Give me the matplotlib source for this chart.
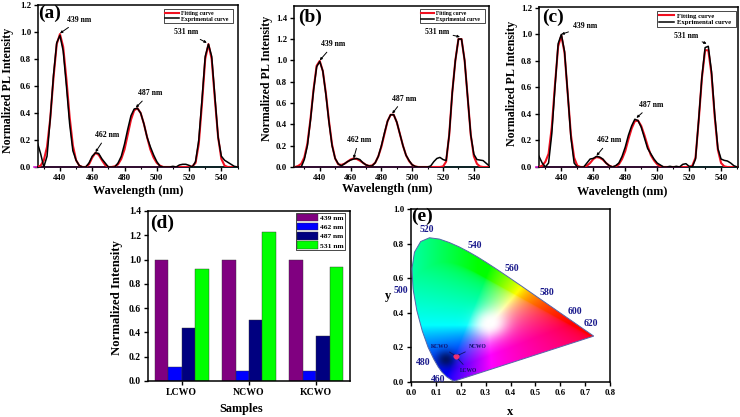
import numpy as np
import matplotlib
matplotlib.use('Agg')
import matplotlib.pyplot as plt
from matplotlib.patches import Polygon
from matplotlib.ticker import MultipleLocator

plt.rcParams['font.family'] = ['Liberation Serif', 'DejaVu Serif']
plt.rcParams['font.weight'] = 'bold'

W, H = 740, 417

wavelength = np.arange(424, 552, 2)

exp_a = [.2, .18, .10, 0, .08, .36, .68, .92, .975, .86, .6, .32, .12, .05, .01, 0, 0, .03, .08, .105, .10, .06, .03, 0, 0, 0,
         .03, .08, .17, .28, .38, .43, .435, .40, .32, .22, .15, .09, .04, .005, 0, 0, 0, .005, 0, .015, .02, .02, .012, 0,
         .04, .2, .5, .82, .91, .82, .52, .22, .08, .05, .035, .02, .005, 0]
fit_a = [0, 0, .01, .05, .15, .36, .66, .91, .985, .89, .65, .37, .16, .05, .01, 0, 0, .02, .07, .105, .09, .05, .015, 0, 0, .005,
         .02, .06, .13, .24, .35, .42, .435, .40, .32, .22, .13, .07, .03, .01, 0, 0, 0, 0, 0, 0, 0, 0, 0, .005,
         .03, .17, .47, .8, .91, .8, .5, .22, .06, .01, 0, 0, 0, 0]
exp_b = [0, 0, 0, .07, .2, .44, .72, .94, .99, .9, .68, .42, .2, .08, .03, .01, .03, .05, .065, .075, .08, .07, .04, .02, .01, .01,
         .04, .1, .2, .32, .43, .49, .49, .42, .31, .2, .11, .06, .02, .005, 0, 0, 0, 0, .01, .05, .08, .09, .07, .06,
         .3, .7, 1.0, 1.2, 1.2, 1.0, .65, .3, .12, .07, .065, .06, .035, .01]
fit_b = [0, .01, .03, .09, .22, .45, .73, .95, .995, .9, .69, .43, .21, .08, .025, .02, .03, .05, .07, .08, .075, .06, .04, .02, .01, .015,
         .04, .1, .19, .31, .43, .49, .49, .42, .31, .2, .11, .055, .02, .005, 0, 0, 0, 0, 0, 0, 0, 0, .005, .05,
         .3, .7, 1.0, 1.2, 1.2, 1.0, .65, .3, .1, .03, .005, 0, 0, 0]
exp_c = [.12, .08, .03, 0, .03, .25, .6, .93, 1.0, .87, .55, .22, .03, 0, 0, 0, .03, .06, .065, .08, .075, .06, .03, .01, 0, .01,
         .03, .08, .15, .24, .31, .36, .35, .3, .22, .14, .1, .06, .03, .015, 0, 0, .005, 0, .005, 0, .02, .025, .005, 0,
         .06, .36, .68, .9, .91, .72, .4, .14, .06, .05, .045, .03, .01, 0]
fit_c = [0, 0, .01, .04, .1, .3, .62, .91, .99, .86, .55, .24, .07, .01, 0, 0, .01, .03, .06, .075, .07, .055, .03, .01, 0, .005,
         .02, .06, .12, .21, .29, .345, .35, .31, .24, .16, .09, .05, .02, .005, 0, 0, 0, 0, 0, 0, 0, 0, 0, .01,
         .07, .35, .67, .88, .88, .7, .38, .13, .03, .005, 0, 0, 0, 0]

peak_labels = ['439 nm', '462 nm', '487 nm', '531 nm']
peak_nm = [440, 462, 487, 531]
tips_a = [.99, .11, .44, .92]
tips_b = [1.0, .08, .5, 1.22]
tips_c = [1.0, .085, .37, .93]
text_a = [(452, 1.09), (469, .236), (495.7, .546), (518, 1.0)]
text_b = [(449, 1.15), (465.3, .25), (494.5, .64), (516, 1.27)]
text_c = [(454.6, 1.06), (470, .2), (496, .467), (518, .99)]

samples = ['LCWO', 'NCWO', 'KCWO']
bar_labels = ['439 nm', '462 nm', '487 nm', '531 nm']
bar_439 = [1.0, 1.0, 1.0]
bar_462 = [.115, .085, .085]
bar_487 = [.44, .5, .37]
bar_531 = [.92, 1.225, .94]
bar_colors = ['#800080', '#0000ff', '#000080', '#00ff00']

locus_x = [.1741, .1644, .1566, .1440, .1241, .1096, .0913, .0687, .0454, .0235, .0082, .0039, .0139, .0389, .0743, .1142,
           .1547, .1929, .2296, .2658, .3016, .3373, .3731, .4087, .4441, .4788, .5125, .5448, .5752, .6029, .6270, .6658,
           .6915, .7079, .7190, .7347]
locus_y = [.0050, .0109, .0177, .0297, .0578, .0868, .1327, .2007, .2950, .4127, .5384, .6548, .7502, .8120, .8338, .8262,
           .8059, .7816, .7543, .7243, .6923, .6589, .6245, .5896, .5547, .5202, .4866, .4544, .4242, .3965, .3725, .3340,
           .3083, .2920, .2809, .2653]
nm_labels = ['460', '480', '500', '520', '540', '560', '580', '600', '620']
nm_x = [.11, .047, -.04, .063, .257, .404, .545, .659, .724]
nm_y = [.016, .114, .53, .879, .79, .657, .518, .405, .339]
cie_names = ['KCWO', 'NCWO', 'LCWO']
cie_x = [.178, .186, .182]
cie_y = [.152, .152, .145]
cie_text_x = [.116, .268, .233]
cie_text_y = [.208, .208, .065]


def add_axes(fig, left, top, right, bottom):
    return fig.add_axes([left / W, 1 - bottom / H, (right - left) / W, (bottom - top) / H])


def put_text(fig, px, py, s, **kw):
    fig.text(px / W, 1 - py / H, s, ha='center', va='center', **kw)


def style(ax, size=6.3):
    for s in ax.spines.values():
        s.set_linewidth(1.1)
    ax.tick_params(which='major', length=3, width=1, labelsize=size, pad=2)
    ax.tick_params(which='minor', length=1.5, width=.8)


def pl_panel(fig, box, xlim, ylim, top_tick, exp, fit, tips, texts, legend_box, legend_size):
    ax = add_axes(fig, *box)
    ax.plot(wavelength, np.zeros(len(wavelength)), color='#d020d0', lw=1.2, clip_on=False, zorder=2)
    ax.plot(wavelength[48:], np.zeros(len(wavelength[48:])), color='#20b0a0', lw=1.2, clip_on=False, zorder=2)
    ax.plot(wavelength, fit, color='#f01020', lw=1.5, label='Fitting curve', zorder=3)
    ax.plot(wavelength, exp, color='black', lw=1.1, label='Exprimental curve', zorder=4)
    ax.set_xlim(*xlim)
    ax.set_ylim(*ylim)
    ax.set_xticks(np.arange(440, 560, 20))
    ax.set_yticks(np.arange(0, top_tick + .01, .2))
    ax.xaxis.set_minor_locator(MultipleLocator(10))
    style(ax)
    for lab, nm, tip, pos in zip(peak_labels, peak_nm, tips, texts):
        ax.annotate(lab, xy=(nm, tip), xytext=pos, ha='center', va='center', fontsize=5.6,
                    arrowprops=dict(arrowstyle='-|>,head_width=.12,head_length=.25', lw=.7, color='black',
                                    shrinkA=1, shrinkB=0))
    x0, y0, x1, y1 = legend_box
    ax.legend(loc='lower left', bbox_to_anchor=((x0 - box[0]) / (box[2] - box[0]), (box[3] - y1) / (box[3] - box[1]),
                                                (x1 - x0) / (box[2] - box[0]), (y1 - y0) / (box[3] - box[1])),
              mode='expand', fontsize=legend_size, frameon=True, fancybox=False, edgecolor='black', framealpha=1,
              borderpad=.25, labelspacing=.15, handlelength=2.3, handletextpad=.4, borderaxespad=0)
    ax.get_legend().get_frame().set_linewidth(.5)
    return ax


def chromaticity_image(n=400):
    xx, yy = np.meshgrid(np.linspace(0, .8, n), np.linspace(0, 1, n))
    ys = np.maximum(yy, 1e-3)
    X = xx / ys
    Z = (1 - xx - yy) / ys
    r = 3.2406 * X - 1.5372 - .4986 * Z
    g = -.9689 * X + 1.8758 + .0415 * Z
    b = .0557 * X - .2040 + 1.0570 * Z
    rgb = np.clip(np.dstack([r, g, b]), 0, None)
    rgb = rgb / np.maximum(rgb.max(axis=2, keepdims=True), 1e-6)
    rgb = rgb ** np.array([.75, 1.0, .35])
    # the greens on the left lean towards cyan
    rgb[..., 2] = np.maximum(rgb[..., 2], .65 * np.clip(1 - xx / .27, 0, 1))
    # white spot
    glow = np.exp(-((xx - .32) / .06) ** 2 - ((yy - .34) / .07) ** 2)[..., None]
    rgb = rgb * (1 - glow) + glow
    # dark patch above the blue corner
    dark = np.exp(-((xx - .14) / .04) ** 2 - ((yy - .13) / .05) ** 2)
    return rgb * (1 - .6 * dark[..., None])


fig = plt.figure(figsize=(W / 100, H / 100), dpi=100)

pl_panel(fig, (38, 5, 237.5, 167), (426.4, 550), (0, 1.2), 1.2, exp_a, fit_a, tips_a, text_a, (164, 7, 233, 23), 4.2)
pl_panel(fig, (294, 6, 488.5, 167), (423.3, 549.5), (0, 1.51), 1.4, exp_b, fit_b, tips_b, text_b, (420, 7, 485, 23), 4.0)
pl_panel(fig, (539, 7, 738, 167), (426, 550.6), (0, 1.206), 1.2, exp_c, fit_c, tips_c, text_c, (657, 9, 736, 27), 4.9)

# bars
ax = add_axes(fig, 148, 211, 350, 381)
pos = np.arange(1, len(samples) + 1)
for i, vals in enumerate([bar_439, bar_462, bar_487, bar_531]):
    ax.bar(pos + (i - 1.5) * .2, vals, .2, color=bar_colors[i], edgecolor='#333333', lw=.3, label=bar_labels[i])
ax.set_xlim(.5, 3.5)
ax.set_ylim(0, 1.4)
ax.set_xticks(pos)
ax.set_xticklabels(samples)
ax.set_yticks(np.arange(0, 1.41, .2))
style(ax, 7)
ax.legend(loc='upper right', bbox_to_anchor=(.975, .99), fontsize=5.4, frameon=True, fancybox=False, edgecolor='black',
          framealpha=1, borderpad=.2, labelspacing=.25, handlelength=2.7, handleheight=1.1, handletextpad=.3, borderaxespad=0)
ax.get_legend().get_frame().set_linewidth(.5)

# chromaticity diagram
ax = add_axes(fig, 411, 209, 610, 382)
im = ax.imshow(chromaticity_image(), origin='lower', extent=(0, .8, 0, 1), aspect='auto', interpolation='bilinear')
edge = Polygon(np.column_stack([locus_x, locus_y]), closed=True, fill=False, edgecolor='#5566aa', lw=.7, zorder=3)
ax.add_patch(edge)
im.set_clip_path(edge)
ax.set_xlim(0, .8)
ax.set_ylim(0, 1)
ax.set_xticks(np.arange(0, .81, .1))
ax.set_yticks(np.arange(0, 1.01, .2))
style(ax)
for s, x, y in zip(nm_labels, nm_x, nm_y):
    ax.text(x, y, s, color='#1a1a8c', fontsize=7, ha='center', va='center', clip_on=False)
for s, x, y, tx, ty in zip(cie_names, cie_x, cie_y, cie_text_x, cie_text_y):
    ax.annotate(s, xy=(x, y), xytext=(tx, ty), fontsize=4, color='#10106a', ha='center', va='center',
                arrowprops=dict(arrowstyle='-|>,head_width=.1,head_length=.2', lw=.6, color='#10106a', shrinkA=1, shrinkB=0))
ax.plot(cie_x, cie_y, 'o', color='#f03070', ms=2, zorder=5)

for px, py, s in [(50, 13, '(a)'), (310, 17, '(b)'), (553, 17, '(c)'), (162, 223, '(d)'), (422, 216, '(e)')]:
    put_text(fig, px, py, s, fontsize=14)

for px, py in [(138, 191), (387, 189), (622, 192)]:
    put_text(fig, px, py, 'Wavelength (nm)', fontsize=8.8)
for px, py in [(8, 90), (267, 78), (512, 83)]:
    put_text(fig, px, py, 'Normalized PL Intensity', fontsize=8.6, rotation=90)
put_text(fig, 241, 409, 'Samples', fontsize=8.8)
put_text(fig, 117, 298, 'Normalized Intensity', fontsize=9.2, rotation=90)
put_text(fig, 510, 412, 'x', fontsize=9)
put_text(fig, 388, 296, 'y', fontsize=9)

fig.savefig('out.png', dpi=100)
